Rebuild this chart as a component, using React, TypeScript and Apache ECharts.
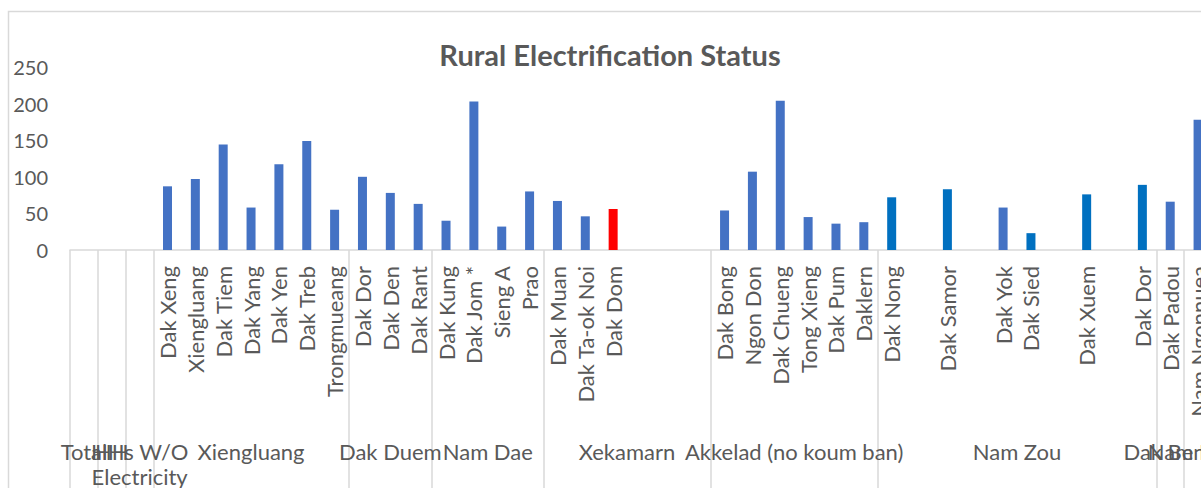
import React, { useEffect, useRef } from "react";
import * as echarts from "echarts";

// Inner (village) categories, in axis order
const villages = [
  "", "", "",
  "Dak Xeng", "Xiengluang", "Dak Tiem", "Dak Yang", "Dak Yen", "Dak Treb", "Trongmueang",
  "Dak Dor", "Dak Den", "Dak Rant",
  "Dak Kung", "Dak Jom *", "Sieng A", "Prao",
  "Dak Muan", "Dak Ta-ok Noi", "Dak Dom", "", "", "",
  "Dak Bong", "Ngon Don", "Dak Chueng", "Tong Xieng", "Dak Pum", "Daklern",
  "Dak Nong", "", "Dak Samor", "", "Dak Yok", "Dak Sied", "", "Dak Xuem", "", "Dak Dor",
  "Dak Padou",
  "Nam Ngonnuea",
];

// Number of households (bar heights), one per village category
const households = [
  null, null, null,
  87, 97, 144, 58, 117, 149, 55,
  100, 78, 63,
  40, 203, 32, 80,
  67, 46, 56, null, null, null,
  54, 107, 204, 45, 36, 38,
  72, null, 83, null, 58, 23, null, 76, null, 89,
  66,
  178,
];

// Outer (district) groups
const groupNames = [
  "Total", "HH", "HHs W/O\nElectricity", "Xiengluang", "Dak Duem", "Nam Dae",
  "Xekamarn", "Akkelad (no koum ban)", "Nam Zou", "Dak Beng", "Nam Beng",
];
const groupSizes = [1, 1, 1, 7, 3, 4, 6, 6, 10, 1, 1];

const yTicks = [0, 50, 100, 150, 200, 250];

const TITLE = "Rural Electrification Status";
const FONT = "Lato, 'Noto Sans', sans-serif";
const GREY = "#595959";
const LINE = "#d9d9d9";

export default function App() {
  const ref = useRef<HTMLDivElement>(null);
  useEffect(() => {
    if (!ref.current) return;
    const chart = echarts.init(ref.current, undefined, { renderer: "svg" });

    const groupStarts: number[] = [];
    const centerToName: Record<number, string> = {};
    let acc = 0;
    groupSizes.forEach((s, i) => {
      groupStarts.push(acc);
      centerToName[Math.round((acc + s / 2) * 2)] = groupNames[i];
      acc += s;
    });
    const total = acc;
    const startSet = new Set(groupStarts);

    const redIdx = new Set([19]);
    const darkIdx = new Set([29, 31, 34, 36, 38]);
    const colorFor = (i: number) =>
      redIdx.has(i) ? "#FF0000" : darkIdx.has(i) ? "#0070C0" : "#4472C4";

    chart.setOption({
      animation: false,
      backgroundColor: "#ffffff",
      graphic: [
        {
          type: "rect",
          shape: { x: 8.5, y: 11.5, width: 1400, height: 700 },
          style: { fill: "none", stroke: LINE, lineWidth: 1.5 },
          silent: true,
        },
        {
          type: "text",
          x: 610,
          y: 54,
          style: {
            text: TITLE,
            textAlign: "center",
            textVerticalAlign: "middle",
            fill: GREY,
            font: `bold 29px ${FONT}`,
          },
        },
      ],
      grid: {
        left: 70,
        right: -11,
        top: 67,
        bottom: 238,
        containLabel: false,
        outerBoundsMode: "none",
      },
      xAxis: [
        {
          type: "category",
          data: villages,
          boundaryGap: true,
          axisLine: { show: true, lineStyle: { color: LINE, width: 1.5 } },
          axisTick: {
            show: true,
            interval: (index: number) => startSet.has(index),
            length: 240,
            lineStyle: { color: LINE, width: 1.5 },
          },
          axisLabel: {
            interval: 0,
            rotate: 90,
            margin: 16,
            color: GREY,
            fontFamily: FONT,
            fontSize: 22,
          },
          splitLine: { show: false },
        },
        {
          type: "value",
          position: "bottom",
          min: 0,
          max: total,
          interval: 0.5,
          offset: 181,
          axisLine: { show: false },
          axisTick: { show: false },
          splitLine: { show: false },
          axisLabel: {
            show: true,
            margin: 8,
            color: GREY,
            fontFamily: FONT,
            fontSize: 22,
            lineHeight: 25,
            align: "center",
            showMinLabel: true,
            showMaxLabel: true,
            formatter: (v: number) => centerToName[Math.round(v * 2)] ?? "",
          },
        },
      ],
      yAxis: {
        type: "value",
        min: yTicks[0],
        max: yTicks[yTicks.length - 1],
        interval: 50,
        axisLine: { show: false },
        axisTick: { show: false },
        splitLine: { show: false },
        axisLabel: { color: GREY, fontFamily: FONT, fontSize: 20, margin: 22 },
      },
      series: [
        {
          type: "bar",
          xAxisIndex: 0,
          barWidth: 9,
          data: households.map((v, i) => ({
            value: v,
            itemStyle: { color: colorFor(i) },
          })),
        },
      ],
    });
    return () => chart.dispose();
  }, []);
  return (
    <div
      ref={ref}
      style={{ position: "fixed", left: 0, top: 0, width: 1201, height: 488, background: "#fff" }}
    />
  );
}
